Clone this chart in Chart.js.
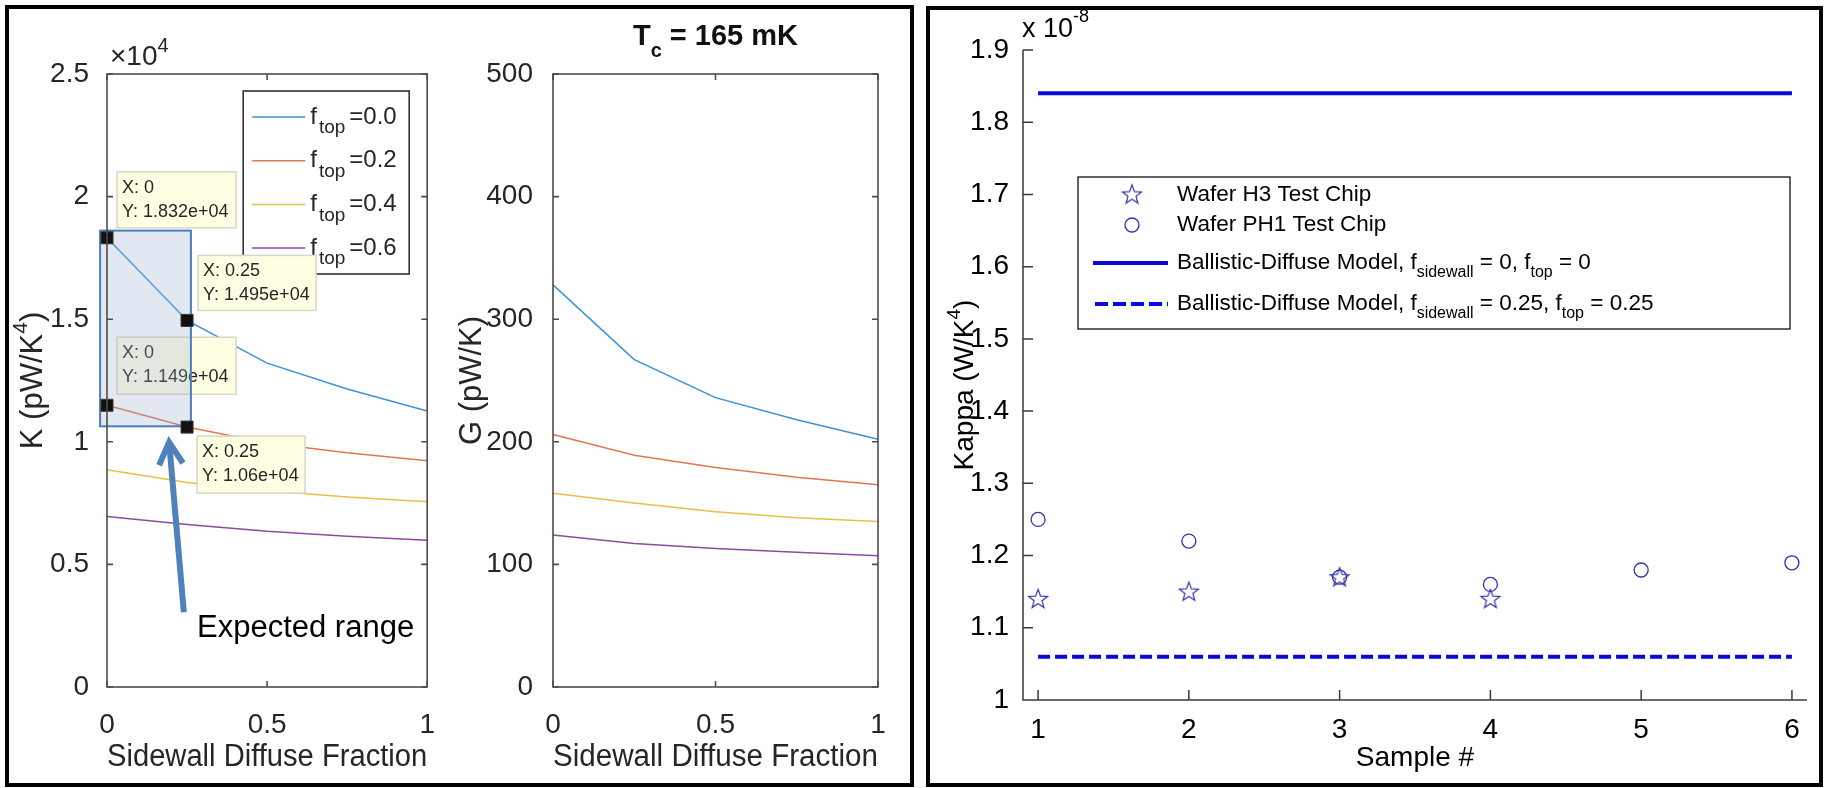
<!DOCTYPE html>
<html>
<head>
<meta charset="utf-8">
<script src="https://cdn.jsdelivr.net/npm/chart.js@4.4.1/dist/chart.umd.min.js"></script>
<style>
  body { margin: 0; background: #fff; width: 1825px; height: 788px; position: relative; overflow: hidden; }
  .panel { position: absolute; border: 4px solid #000; box-sizing: border-box; }
  canvas { position: absolute; }
</style>
</head>
<body>
<div class="panel" style="left:5px;top:5px;width:909px;height:782px"></div>
<div class="panel" style="left:926px;top:6px;width:897px;height:781px"></div>
<canvas id="kChart" width="440" height="775" style="left:8px;top:8px"></canvas>
<canvas id="gChart" width="460" height="775" style="left:448px;top:8px"></canvas>
<canvas id="kappaChart" width="888" height="773" style="left:930px;top:10px"></canvas>
<script>
const FONT = "'Liberation Sans', Arial, Helvetica, sans-serif";

// left panel: K and G vs sidewall diffuse fraction, one curve per f_top
const sidewallFrac = [0, 0.25, 0.5, 0.75, 1];
const topFracLabels = ['0.0', '0.2', '0.4', '0.6'];
const kTop00 = [18320, 14950, 13210, 12150, 11260];
const kTop02 = [11490, 10600, 9950, 9550, 9230];
const kTop04 = [8860, 8340, 8000, 7750, 7560];
const kTop06 = [6950, 6630, 6350, 6150, 5980];
const gTop00 = [328, 267, 236, 218, 202];
const gTop02 = [206, 189, 179, 171, 165];
const gTop04 = [158, 150, 143, 138, 135];
const gTop06 = [124, 117, 113, 110, 107];
const fracTicks = [0, 0.5, 1];
const fracTickLabels = ['0', '0.5', '1'];
const kTicks = [0, 5000, 10000, 15000, 20000, 25000];
const kTickLabels = ['0', '0.5', '1', '1.5', '2', '2.5'];
const gTicks = [0, 100, 200, 300, 400, 500];
const gTickLabels = ['0', '100', '200', '300', '400', '500'];
// data tips on the K plot
const tipX = [0, 0.25, 0, 0.25];
const tipY = [18320, 14950, 11490, 10600];

// right panel: measured kappa per sample (units of 1e-8 W/K^4)
const sampleNo = [1, 2, 3, 4, 5, 6];
const kappaH3 = [1.14, 1.15, 1.17, 1.14];
const kappaPH1 = [1.25, 1.22, 1.17, 1.16, 1.18, 1.19];
const modelSpecular = [1.84, 1.84, 1.84, 1.84, 1.84, 1.84];
const modelDiffuse = [1.06, 1.06, 1.06, 1.06, 1.06, 1.06];
const sampleTicks = [1, 2, 3, 4, 5, 6];
const kappaTicks = [1, 1.1, 1.2, 1.3, 1.4, 1.5, 1.6, 1.7, 1.8, 1.9];
const kappaTickLabels = ['1', '1.1', '1.2', '1.3', '1.4', '1.5', '1.6', '1.7', '1.8', '1.9'];

const lineColors = ['#3d92d5', '#e2774f', '#eebd48', '#8e4a9d'];
const grayText = '#262626';

function pts(xs, ys) {
  return ys.map((y, i) => ({ x: xs[i], y: y }));
}

// draws text made of pieces (sub/superscripts), optionally rotated
function rich(ctx, parts, x, y, align, rot, color) {
  ctx.save();
  ctx.translate(x, y);
  if (rot) ctx.rotate(rot);
  let total = 0;
  parts.forEach(p => {
    ctx.font = (p.b ? 'bold ' : '') + p.s + 'px ' + FONT;
    p.w = ctx.measureText(p.t).width + (p.g || 0);
    total += p.w;
  });
  let cx = align === 'center' ? -total / 2 : 0;
  ctx.fillStyle = color;
  ctx.textBaseline = 'middle';
  ctx.textAlign = 'left';
  parts.forEach(p => {
    ctx.font = (p.b ? 'bold ' : '') + p.s + 'px ' + FONT;
    ctx.fillText(p.t, cx + (p.g || 0), p.dy || 0);
    cx += p.w;
  });
  ctx.restore();
}

function boxAndTicks(chart) {
  const { ctx, chartArea: a, scales: { x, y } } = chart;
  ctx.save();
  ctx.strokeStyle = '#4d4d4d';
  ctx.lineWidth = 1.6;
  ctx.strokeRect(a.left, a.top, a.right - a.left, a.bottom - a.top);
  ctx.beginPath();
  x.ticks.forEach(t => {
    const px = x.getPixelForValue(t.value);
    ctx.moveTo(px, a.bottom); ctx.lineTo(px, a.bottom - 6);
    ctx.moveTo(px, a.top); ctx.lineTo(px, a.top + 6);
  });
  y.ticks.forEach(t => {
    const py = y.getPixelForValue(t.value);
    ctx.moveTo(a.left, py); ctx.lineTo(a.left + 6, py);
    ctx.moveTo(a.right, py); ctx.lineTo(a.right - 6, py);
  });
  ctx.stroke();
  ctx.restore();
}

function lineSets(series) {
  return series.map((ys, i) => ({
    label: 'f_top=' + topFracLabels[i],
    data: pts(sidewallFrac, ys),
    borderColor: lineColors[i],
    borderWidth: 1.5,
    pointRadius: 0,
    tension: 0,
    order: 1,
    clip: false
  }));
}

function fracScales(yMax, yTicks, yLabels, yWidth, yPad) {
  return {
    x: {
      type: 'linear', min: 0, max: 1,
      afterBuildTicks: s => { s.ticks = fracTicks.map(v => ({ value: v })); },
      afterFit: s => { s.height = 96; },
      grid: { display: false }, border: { display: false },
      ticks: { callback: (v, i) => fracTickLabels[i], font: { family: FONT, size: 28 }, color: grayText, padding: 13, maxRotation: 0, autoSkip: false },
      title: { display: true, text: 'Sidewall Diffuse Fraction', font: { family: FONT, size: 31 }, color: grayText, padding: { top: 0, bottom: 7 } }
    },
    y: {
      type: 'linear', min: 0, max: yMax,
      afterBuildTicks: s => { s.ticks = yTicks.map(v => ({ value: v })); },
      afterFit: s => { s.width = yWidth; },
      grid: { display: false }, border: { display: false },
      ticks: { callback: (v, i) => yLabels[i], font: { family: FONT, size: 28 }, color: grayText, padding: yPad, autoSkip: false }
    }
  };
}

const kPlugin = {
  id: 'kExtras',
  beforeDatasetDraw(chart, args) {
    if (args.index !== 4) return;
    const { ctx, chartArea: a, scales: { x, y } } = chart;
    // legend (under the data tips)
    const lx = a.right - 184, ly = a.top + 17;
    ctx.save();
    ctx.fillStyle = '#fff';
    ctx.fillRect(lx, ly, 166, 183);
    ctx.strokeStyle = '#333';
    ctx.lineWidth = 1.6;
    ctx.strokeRect(lx, ly, 166, 183);
    topFracLabels.forEach((lbl, i) => {
      const ry = ly + 26 + i * 43.7;
      ctx.strokeStyle = lineColors[i];
      ctx.lineWidth = 1.5;
      ctx.beginPath(); ctx.moveTo(lx + 9, ry); ctx.lineTo(lx + 62, ry); ctx.stroke();
      rich(ctx, [{ t: 'f', s: 24 }, { t: 'top', s: 19, dy: 11, g: 2 }, { t: '=' + lbl, s: 24, g: 4 }], lx + 67, ry, 'left', 0, grayText);
    });
    ctx.restore();
    // data tips (over the curves, under the selection box)
    const tipBoxes = [[10, -66, 119, 56], [11, -65, 118, 55], [10, -68, 119, 57], [10, 9, 108, 57]];
    tipX.forEach((tx, i) => {
      const px = x.getPixelForValue(tx), py = y.getPixelForValue(tipY[i]);
      const [dx, dy, w, h] = tipBoxes[i];
      ctx.save();
      ctx.fillStyle = '#ffffe3';
      ctx.strokeStyle = '#d8d8c4';
      ctx.lineWidth = 1.5;
      ctx.fillRect(px + dx, py + dy, w, h);
      ctx.strokeRect(px + dx, py + dy, w, h);
      ctx.restore();
      const yTxt = parseFloat((tipY[i] / 1e4).toPrecision(4)) + 'e+04';
      rich(ctx, [{ t: 'X: ' + tx, s: 18 }], px + dx + 5, py + dy + 16, 'left', 0, grayText);
      rich(ctx, [{ t: 'Y: ' + yTxt, s: 18 }], px + dx + 5, py + dy + 40, 'left', 0, grayText);
    });
    // "expected range" selection box
    const x0 = x.getPixelForValue(-0.0216), x1 = x.getPixelForValue(0.262);
    const y0 = y.getPixelForValue(18613), y1 = y.getPixelForValue(10631);
    ctx.save();
    ctx.fillStyle = 'rgba(150,172,205,0.28)';
    ctx.fillRect(x0, y0, x1 - x0, y1 - y0);
    ctx.strokeStyle = '#4a7ebb';
    ctx.lineWidth = 2;
    ctx.strokeRect(x0, y0, x1 - x0, y1 - y0);
    ctx.restore();
  },
  afterDraw(chart) {
    const { ctx, chartArea: a, scales: { x, y } } = chart;
    boxAndTicks(chart);
    // exponent
    rich(ctx, [{ t: '\u00d710', s: 28 }, { t: '4', s: 20, dy: -11 }], a.left + 3, a.top - 17, 'left', 0, grayText);
    // y title
    rich(ctx, [{ t: 'K (pW/K', s: 31 }, { t: '4', s: 21, dy: -12 }, { t: ')', s: 31 }], 25, (a.top + a.bottom) / 2, 'center', -Math.PI / 2, grayText);
    // arrow pointing at the box
    const ax0 = x.getPixelForValue(0.24), ay0 = y.getPixelForValue(3050);
    const ax1 = x.getPixelForValue(0.194), ay1 = y.getPixelForValue(9980);
    const ang = Math.atan2(ay1 - ay0, ax1 - ax0);
    const hl = 22, hw = 12;
    const bx = ax1 - hl * Math.cos(ang), by = ay1 - hl * Math.sin(ang);
    ctx.save();
    ctx.strokeStyle = '#4f81bd';
    ctx.lineWidth = 6;
    ctx.lineJoin = 'miter';
    ctx.beginPath(); ctx.moveTo(ax0, ay0); ctx.lineTo(ax1 - 3 * Math.cos(ang), ay1 - 3 * Math.sin(ang)); ctx.stroke();
    ctx.beginPath();
    ctx.moveTo(bx + hw * Math.sin(ang), by - hw * Math.cos(ang));
    ctx.lineTo(ax1, ay1);
    ctx.lineTo(bx - hw * Math.sin(ang), by + hw * Math.cos(ang));
    ctx.stroke();
    ctx.restore();
    rich(ctx, [{ t: 'Expected range', s: 31 }], x.getPixelForValue(0.281), y.getPixelForValue(2403), 'left', 0, '#000');
  }
};

const gPlugin = {
  id: 'gExtras',
  afterDraw(chart) {
    const { ctx, chartArea: a } = chart;
    boxAndTicks(chart);
    rich(ctx, [{ t: 'G (pW/K)', s: 31 }], 24, (a.top + a.bottom) / 2, 'center', -Math.PI / 2, grayText);
    rich(ctx, [{ t: 'T', s: 29, b: true }, { t: 'c', s: 20, b: true, dy: 14 }, { t: ' = 165 mK', s: 29, b: true }],
      (a.left + a.right) / 2, a.top - 37, 'center', 0, '#111');
  }
};

new Chart(document.getElementById('kChart'), {
  type: 'line',
  data: {
    datasets: lineSets([kTop00, kTop02, kTop04, kTop06]).concat([{
      label: 'tips',
      data: pts(tipX, tipY),
      showLine: false,
      pointStyle: 'rect',
      pointRadius: 8.5,
      backgroundColor: '#111',
      borderColor: '#3a3a2a',
      borderWidth: 1,
      order: 0,
      clip: false
    }])
  },
  options: {
    responsive: false, animation: false, devicePixelRatio: 1, events: [],
    layout: { padding: { left: 0, top: 66, right: 16, bottom: 0 } },
    plugins: { legend: { display: false }, tooltip: { enabled: false } },
    scales: fracScales(25000, kTicks, kTickLabels, 99, 10)
  },
  plugins: [kPlugin]
});

new Chart(document.getElementById('gChart'), {
  type: 'line',
  data: { datasets: lineSets([gTop00, gTop02, gTop04, gTop06]) },
  options: {
    responsive: false, animation: false, devicePixelRatio: 1, events: [],
    layout: { padding: { left: 0, top: 66, right: 30, bottom: 0 } },
    plugins: { legend: { display: false }, tooltip: { enabled: false } },
    scales: fracScales(500, gTicks, gTickLabels, 105, 12)
  },
  plugins: [gPlugin]
});

// outline star marker
const markerColor = '#3333aa';
const modelColor = '#0808d8';
const star = document.createElement('canvas');
star.width = 24; star.height = 24;
(function () {
  const c = star.getContext('2d');
  c.strokeStyle = markerColor;
  c.lineWidth = 1.2;
  c.beginPath();
  for (let k = 0; k < 10; k++) {
    const r = k % 2 === 0 ? 10 : 4.2;
    const t = -Math.PI / 2 + k * Math.PI / 5;
    const px = 12 + r * Math.cos(t), py = 12.5 + r * Math.sin(t);
    if (k === 0) c.moveTo(px, py); else c.lineTo(px, py);
  }
  c.closePath();
  c.stroke();
})();

const kappaPlugin = {
  id: 'kappaExtras',
  afterDraw(chart) {
    const { ctx, chartArea: a, scales: { x, y } } = chart;
    ctx.save();
    ctx.strokeStyle = '#3a3a3a';
    ctx.lineWidth = 1.5;
    ctx.beginPath();
    ctx.moveTo(a.left, a.top); ctx.lineTo(a.left, a.bottom); ctx.lineTo(a.right, a.bottom);
    y.ticks.forEach(t => { const py = y.getPixelForValue(t.value); ctx.moveTo(a.left, py); ctx.lineTo(a.left + 10, py); });
    x.ticks.forEach(t => { const px = x.getPixelForValue(t.value); ctx.moveTo(px, a.bottom); ctx.lineTo(px, a.bottom - 10); });
    ctx.stroke();
    ctx.restore();
    rich(ctx, [{ t: 'x 10', s: 27 }, { t: '-8', s: 18, dy: -13 }], a.left - 1, a.top - 20, 'left', 0, '#000');
    rich(ctx, [{ t: 'Kappa (W/K', s: 28 }, { t: '4', s: 19, dy: -10 }, { t: ')', s: 28 }], 35, 375, 'center', -Math.PI / 2, '#000');
    // legend
    const lx = a.left + 55, ly = a.top + 127;
    ctx.save();
    ctx.fillStyle = '#fff';
    ctx.fillRect(lx, ly, 712, 152);
    ctx.strokeStyle = '#222';
    ctx.lineWidth = 1.4;
    ctx.strokeRect(lx, ly, 712, 152);
    ctx.drawImage(star, lx + 54 - 12, ly + 18 - 12.5);
    ctx.strokeStyle = markerColor;
    ctx.lineWidth = 1.3;
    ctx.beginPath(); ctx.arc(lx + 54, ly + 48, 7, 0, Math.PI * 2); ctx.stroke();
    ctx.strokeStyle = modelColor;
    ctx.lineWidth = 4;
    ctx.beginPath(); ctx.moveTo(lx + 15, ly + 86); ctx.lineTo(lx + 90, ly + 86); ctx.stroke();
    ctx.setLineDash([13, 5]);
    ctx.beginPath(); ctx.moveTo(lx + 17, ly + 127); ctx.lineTo(lx + 90, ly + 127); ctx.stroke();
    ctx.restore();
    const tx = lx + 99, fs = 22.5, ss = 16;
    rich(ctx, [{ t: 'Wafer H3 Test Chip', s: fs }], tx, ly + 18, 'left', 0, '#000');
    rich(ctx, [{ t: 'Wafer PH1 Test Chip', s: fs }], tx, ly + 48, 'left', 0, '#000');
    rich(ctx, [{ t: 'Ballistic-Diffuse Model, f', s: fs }, { t: 'sidewall', s: ss, dy: 10 }, { t: ' = 0, f', s: fs }, { t: 'top', s: ss, dy: 10 }, { t: ' = 0', s: fs }], tx, ly + 86, 'left', 0, '#000');
    rich(ctx, [{ t: 'Ballistic-Diffuse Model, f', s: fs }, { t: 'sidewall', s: ss, dy: 10 }, { t: ' = 0.25, f', s: fs }, { t: 'top', s: ss, dy: 10 }, { t: ' = 0.25', s: fs }], tx, ly + 127, 'left', 0, '#000');
  }
};

new Chart(document.getElementById('kappaChart'), {
  type: 'line',
  data: {
    datasets: [
      { label: 'Wafer H3 Test Chip', data: pts(sampleNo, kappaH3), showLine: false, pointStyle: star, pointRadius: 10 },
      { label: 'Wafer PH1 Test Chip', data: pts(sampleNo, kappaPH1), showLine: false, pointStyle: 'circle', pointRadius: 7, borderColor: markerColor, backgroundColor: 'rgba(0,0,0,0)', borderWidth: 1.3 },
      { label: 'Ballistic-Diffuse Model, f_sidewall = 0, f_top = 0', data: pts(sampleNo, modelSpecular), borderColor: modelColor, borderWidth: 4, pointRadius: 0 },
      { label: 'Ballistic-Diffuse Model, f_sidewall = 0.25, f_top = 0.25', data: pts(sampleNo, modelDiffuse), borderColor: modelColor, borderWidth: 4, borderDash: [12, 5], pointRadius: 0 }
    ]
  },
  options: {
    responsive: false, animation: false, devicePixelRatio: 1, events: [],
    layout: { padding: { left: 0, top: 40, right: 8, bottom: 0 } },
    plugins: { legend: { display: false }, tooltip: { enabled: false } },
    scales: {
      x: {
        type: 'linear', min: 0.9, max: 6.1,
        afterBuildTicks: s => { s.ticks = sampleTicks.map(v => ({ value: v })); },
        afterFit: s => { s.height = 83; },
        grid: { display: false }, border: { display: false },
        ticks: { callback: (v, i) => String(sampleTicks[i]), font: { family: FONT, size: 28 }, color: '#000', padding: 5, maxRotation: 0, autoSkip: false },
        title: { display: true, text: 'Sample #', font: { family: FONT, size: 28 }, color: '#000', padding: { top: 0, bottom: 8 } }
      },
      y: {
        type: 'linear', min: 1, max: 1.9,
        afterBuildTicks: s => { s.ticks = kappaTicks.map(v => ({ value: v })); },
        afterFit: s => { s.width = 93; },
        grid: { display: false }, border: { display: false },
        ticks: { callback: (v, i) => kappaTickLabels[i], font: { family: FONT, size: 28 }, color: '#000', padding: 6, autoSkip: false }
      }
    }
  },
  plugins: [kappaPlugin]
});
</script>
</body>
</html>
